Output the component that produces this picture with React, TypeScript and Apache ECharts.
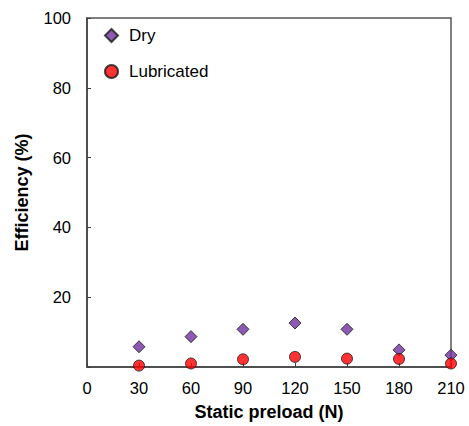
import React, { useEffect, useRef } from "react";
import * as echarts from "echarts";

const preload = [30, 60, 90, 120, 150, 180, 210];
const dryEff = [5.8, 8.7, 10.8, 12.6, 10.8, 4.9, 3.4];
const lubEff = [0.4, 1.0, 2.2, 2.9, 2.4, 2.3, 1.0];
const xTicks = [0, 30, 60, 90, 120, 150, 180, 210];
const yTicks = [0, 20, 40, 60, 80, 100];

const FONT = "Liberation Sans, Arial, sans-serif";

export default function App() {
  const ref = useRef<HTMLDivElement>(null);
  useEffect(() => {
    if (!ref.current) return;
    const chart = echarts.init(ref.current, undefined, { renderer: "svg" });
    const axisLine = { show: true, lineStyle: { color: "#404040", width: 1.5 } };
    chart.setOption({
      animation: false,
      backgroundColor: "#ffffff",
      textStyle: { fontFamily: FONT },
      grid: { left: 87, top: 18, right: 18, bottom: 58, show: true, borderColor: "#555555", borderWidth: 1.5, backgroundColor: "transparent" },
      legend: {
        orient: "vertical",
        left: 99,
        top: 22,
        itemGap: 19,
        itemWidth: 13,
        itemHeight: 13,
        textStyle: { fontFamily: FONT, fontSize: 17, color: "#000000", padding: [0, 0, 0, 6] },
        data: ["Dry", "Lubricated"],
      },
      xAxis: {
        type: "value",
        min: xTicks[0],
        max: xTicks[xTicks.length - 1],
        interval: 30,
        name: "Static preload (N)",
        nameLocation: "middle",
        nameGap: 36,
        nameTextStyle: { fontFamily: FONT, fontSize: 18, fontWeight: "bold", color: "#000000" },
        axisLine,
        axisTick: { show: true, inside: true, length: 4, lineStyle: { color: "#404040" } },
        axisLabel: { fontFamily: FONT, fontSize: 16.5, color: "#000000", margin: 12 },
        splitLine: { show: false },
      },
      yAxis: {
        type: "value",
        min: yTicks[0],
        max: yTicks[yTicks.length - 1],
        interval: 20,
        name: "Efficiency (%)",
        nameLocation: "middle",
        nameGap: 56,
        nameTextStyle: { fontFamily: FONT, fontSize: 18, fontWeight: "bold", color: "#000000" },
        axisLine,
        axisTick: { show: true, inside: true, length: 4, lineStyle: { color: "#404040" } },
        axisLabel: {
          fontFamily: FONT,
          fontSize: 16.5,
          color: "#000000",
          margin: 16,
          formatter: (v: number) => (v === 0 ? "" : String(v)),
        },
        splitLine: { show: false },
      },
      series: [
        {
          name: "Dry",
          type: "scatter",
          symbol: "diamond",
          symbolSize: 12,
          itemStyle: { color: "#7030A0", borderColor: "#1a1a1a", borderWidth: 1 },
          data: preload.map((x, i) => [x, dryEff[i]]),
        },
        {
          name: "Lubricated",
          type: "scatter",
          symbol: "circle",
          symbolSize: 11,
          itemStyle: { color: "#FF0000", borderColor: "#1a1a1a", borderWidth: 1 },
          data: preload.map((x, i) => [x, lubEff[i]]),
        },
      ],
    });
    return () => chart.dispose();
  }, []);
  return (
    <div
      ref={ref}
      style={{ position: "fixed", left: 0, top: 0, width: 469, height: 426 }}
    />
  );
}
